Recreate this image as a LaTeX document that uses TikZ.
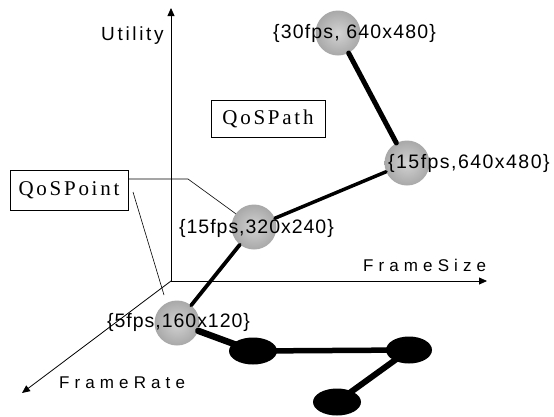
\documentclass[tikz,border=0pt]{standalone}
\usepackage{fontspec}
\setmainfont{Liberation Serif}
\setsansfont{Liberation Sans}
\usetikzlibrary{arrows.meta,shapes.geometric}
\begin{document}
\begin{tikzpicture}[x=1pt,y=-1pt,
  axis/.style={line width=0.8pt,-{Triangle[length=8pt,width=7pt]}},
  lead/.style={line width=0.6pt},
  sph/.style={circle,minimum size=45pt,inner sep=0pt,shading=radial,inner color=gray!35,outer color=gray!68},
  ell/.style={ellipse,fill=black,inner sep=0pt,minimum width=48pt,minimum height=27pt},
  lbl/.style={inner sep=0pt,anchor=west},
  boxlbl/.style={draw,line width=0.6pt,inner sep=0pt,font=\rmfamily\fontsize{21}{21}\selectfont\addfontfeature{LetterSpace=13}},
  link/.style={line cap=round}
]
\useasboundingbox (0,0) rectangle (554,416);
% axes
\coordinate (O) at (171,281);
\coordinate (U) at (171,8);
\coordinate (FS) at (487,281);
\coordinate (FR) at (22,393);
\draw[axis] (O) -- (U);
\draw[axis] (O) -- (FS);
\draw[axis] (O) -- (FR);
% boxes
\node[boxlbl,minimum width=114pt,minimum height=37pt] (qpath) at (268,118.5) {QoSPath};
\node[boxlbl,minimum width=118pt,minimum height=40pt] (qpoint) at (69,190) {QoSPoint};
% spheres and ellipses
\node[sph] (S1) at (338,33) {};
\node[sph] (S2) at (407,163) {};
\node[sph] (S3) at (254,227) {};
\node[sph] (S4) at (177,323) {};
\node[ell] (E1) at (253,351) {};
\node[ell,minimum width=46pt] (E2) at (409,350) {};
\node[ell] (E3) at (337,402) {};
% leader lines
\coordinate (lp1) at (128,179);
\coordinate (bend) at (188,179);
\coordinate (lp2) at (133,192);
\coordinate (lp3) at (164,295);
\draw[lead] (lp1) -- (bend) -- (S3);
\draw[lead] (lp2) -- (lp3);
% path links
\draw[link,line width=5pt] (S1) -- (S2);
\draw[link,line width=3.5pt] (S2) -- (S3);
\draw[link,line width=3.8pt] (S3) -- (S4);
\draw[link,line width=6.5pt] (S4) -- (E1.center);
\draw[link,line width=5.5pt] (E1.center) -- (E2.center);
\draw[link,line width=6pt] (E2.center) -- (E3.center);
% labels
\node[lbl,font=\sffamily\fontsize{19}{19}\selectfont\addfontfeature{LetterSpace=14}] (tu) at (101,36) {Utility};
\node[lbl,font=\sffamily\fontsize{17}{17}\selectfont\addfontfeature{LetterSpace=30}] (tfs) at (363,265) {FrameSize};
\node[lbl,font=\sffamily\fontsize{17}{17}\selectfont\addfontfeature{LetterSpace=30}] (tfr) at (59,383) {FrameRate};
\node[lbl,font=\sffamily\fontsize{19.5}{19.5}\selectfont\addfontfeature{LetterSpace=6}] (t1) at (273,33) {\{30fps, 640x480\}};
\node[lbl,font=\sffamily\fontsize{19.5}{19.5}\selectfont\addfontfeature{LetterSpace=7.5}] (t2) at (388,163) {\{15fps,640x480\}};
\node[lbl,font=\sffamily\fontsize{19.5}{19.5}\selectfont\addfontfeature{LetterSpace=5}] (t3) at (179,228) {\{15fps,320x240\}};
\node[lbl,font=\sffamily\fontsize{19.5}{19.5}\selectfont\addfontfeature{LetterSpace=5}] (t4) at (107,322) {\{5fps,160x120\}};
\end{tikzpicture}
\end{document}
